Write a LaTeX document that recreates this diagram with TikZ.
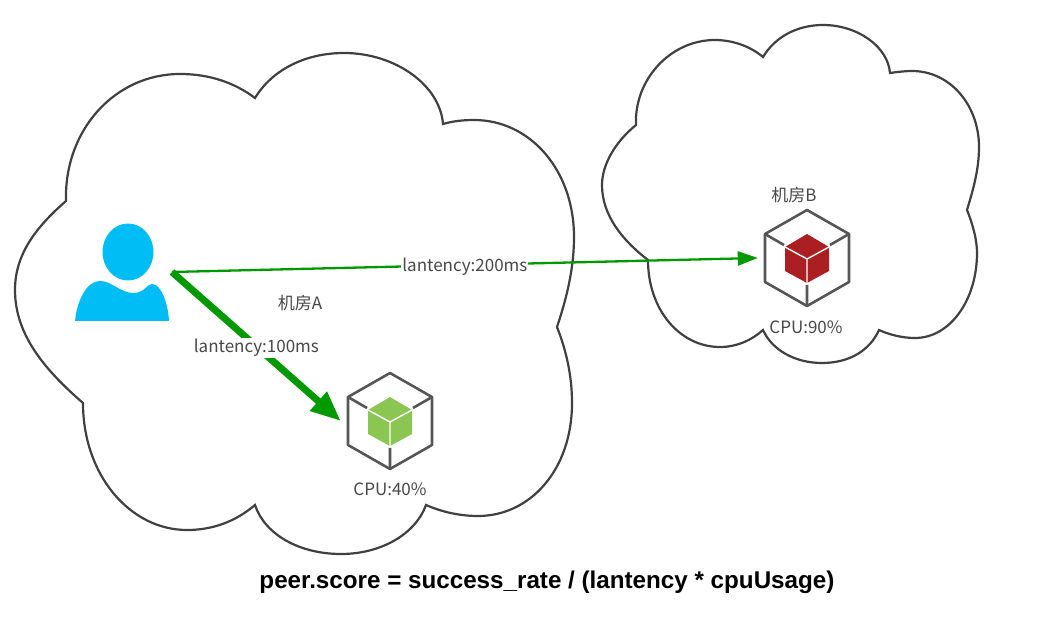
\documentclass[tikz,border=0pt]{standalone}
\usepackage{fontspec}
\setmainfont{Noto Sans CJK SC}
\newfontfamily\titlefont{Liberation Sans}
\usetikzlibrary{arrows.meta,positioning,calc}
\definecolor{cloudline}{HTML}{404040}
\definecolor{cubeline}{HTML}{565656}
\definecolor{labeltext}{HTML}{484848}
\definecolor{linkgreen}{HTML}{009A00}
\definecolor{usercyan}{HTML}{00BEF5}
\definecolor{cubegreen}{HTML}{8CC652}
\definecolor{cubered}{HTML}{AB1E22}
\tikzset{
  cloudshape/.style={draw=cloudline,line width=2.2pt,fill=white},
  boxlabel/.style={text=labeltext,font=\fontsize{17}{19}\selectfont,inner sep=1pt},
  boxport/.style={circle,minimum size=98pt,inner sep=0pt},
  linklabel/.style={boxlabel,fill=white,inner sep=1pt,yshift=-1.5pt},
}

\begin{document}
\begin{tikzpicture}[x=1pt,y=-1pt]
  \useasboundingbox (0,0) rectangle (1037,620);
  \draw[cloudshape] (66,201) .. controls (64,130) and (115,74) .. (180,74) .. controls (210,74) and (235,83) .. (255,98)
    .. controls (272,70) and (305,53) .. (344,53) .. controls (395,53) and (440,85) .. (443,124)
    .. controls (453,121) and (464,120) .. (474,120) .. controls (530,120) and (574,170) .. (574,237) .. controls (574,270) and (566,300) .. (557,327)
    .. controls (566,350) and (572,375) .. (572,403) .. controls (572,470) and (530,516) .. (478,516) .. controls (460,516) and (442,512) .. (426,505)
    .. controls (415,535) and (380,554) .. (341,554) .. controls (300,554) and (265,535) .. (255,505)
    .. controls (235,522) and (212,530) .. (187,530) .. controls (130,530) and (83,475) .. (83,403)
    .. controls (45,370) and (15,335) .. (15,290) .. controls (15,255) and (35,228) .. (66,201) -- cycle; % left cloud
  \draw[cloudshape] (636,125) .. controls (634,80) and (670,40) .. (715,40) .. controls (732,40) and (750,46) .. (763,57)
    .. controls (775,37) and (797,25) .. (823,25) .. controls (858,25) and (888,47) .. (890,73)
    .. controls (897,72) and (905,71) .. (912,71) .. controls (950,71) and (979,105) .. (979,147) .. controls (979,170) and (973,190) .. (967,210)
    .. controls (973,225) and (977,240) .. (977,253) .. controls (977,300) and (950,338) .. (915,338) .. controls (903,338) and (890,335) .. (879,330)
    .. controls (870,350) and (850,363) .. (822,363) .. controls (795,363) and (772,350) .. (763,330)
    .. controls (752,340) and (737,347) .. (720,347) .. controls (680,347) and (648,310) .. (648,260)
    .. controls (622,240) and (602,215) .. (602,185) .. controls (602,165) and (615,142) .. (636,125) -- cycle; % right cloud

  \fill[usercyan] (128,252) ellipse [x radius=25.5,y radius=28.5]; % user head
  \fill[usercyan] (75,321) .. controls (77,300) and (87,281) .. (100,281) .. controls (112,281) and (120,293) .. (134,293)
    .. controls (144,293) and (147,284) .. (152,284) .. controls (161,284) and (168,303) .. (169,321) -- cycle; % user shoulders
  \coordinate (userport) at (172,272);

  \foreach \name/\posx/\posy/\fillcol in {A/390/421/cubegreen,B/807/258/cubered}{
    \node[boxport] (box\name) at (\posx,\posy) {};
    \begin{scope}[shift={(\posx,\posy)}]
      \draw[cubeline,line width=2.6pt,line join=round] (0,-48) -- (42,-24) -- (42,24) -- (0,48) -- (-42,24) -- (-42,-24) -- cycle; % outer hexagon
      \draw[cubeline,line width=2.6pt] (-42,-24) -- (-23,-13) (42,-24) -- (23,-13) (0,48) -- (0,27); % spokes
      \fill[\fillcol] (0,-24) -- (22,-11) -- (22,13) -- (0,25) -- (-22,13) -- (-22,-11) -- cycle; % inner cube
      \draw[white,line width=1.4pt] (-22,-11) -- (0,1) -- (22,-11) (0,1) -- (0,25); % inner edges
    \end{scope}
  }

  \draw[linkgreen,line width=2.3pt,-{Triangle[length=20pt,width=14pt]}] (userport) -- (boxB.west)
    node[linklabel,midway] (labelB) {lantency:200ms}; % link to room B
  \draw[linkgreen,line width=7pt,-{Triangle[length=30pt,width=24pt]}] (userport) -- (boxA.west)
    node[linklabel,midway] (labelA) {lantency:100ms}; % link to room A

  \node[boxlabel] (roomA) at (300,303) {机房A};
  \node[boxlabel] (roomB) at (794,195) {机房B};
  \node[boxlabel] (cpuA) at (390,489) {CPU:40\%};
  \node[boxlabel] (cpuB) at (806,327) {CPU:90\%};
  \node[font=\titlefont\bfseries\fontsize{24.2}{26}\selectfont] (score) at (547,582) {peer.score = success\_rate / (lantency * cpuUsage)};
\end{tikzpicture}
\end{document}
